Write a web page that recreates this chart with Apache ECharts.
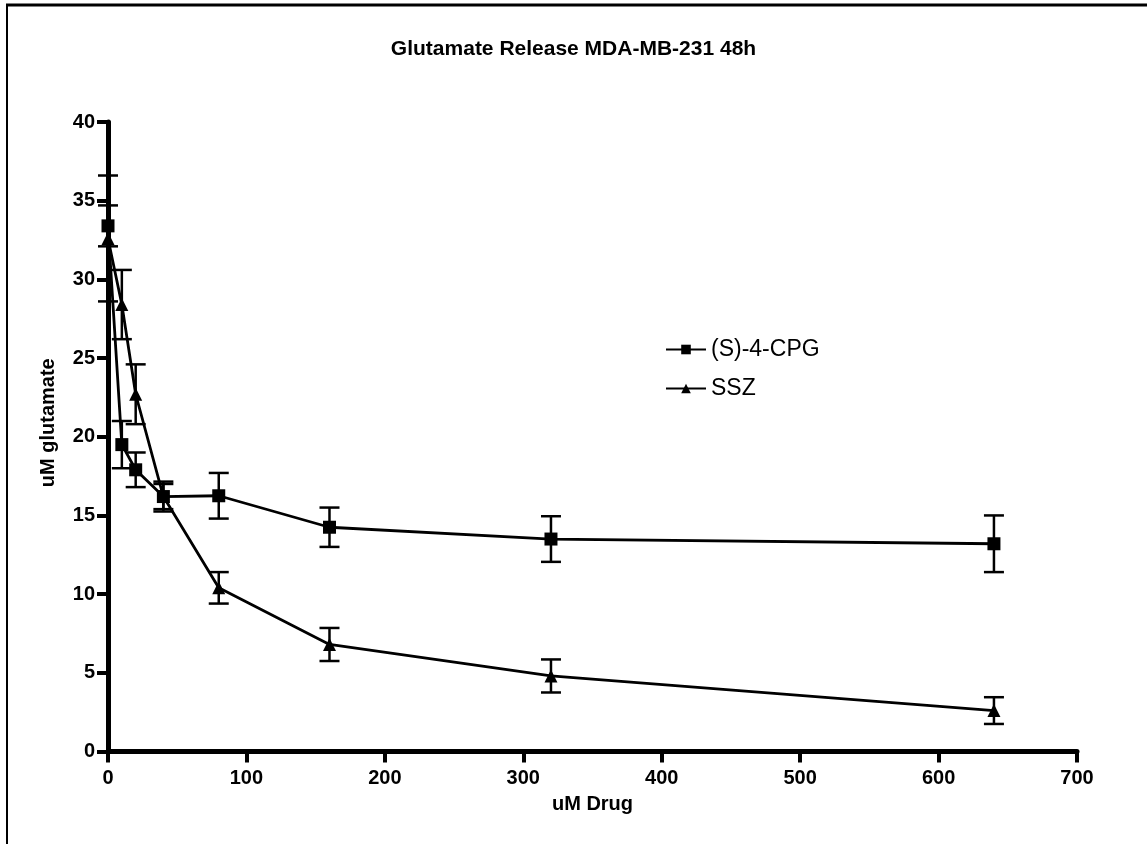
<!DOCTYPE html>
<html>
<head>
<meta charset="utf-8">
<script src="https://cdn.jsdelivr.net/npm/echarts@6/dist/echarts.min.js"></script>
<style>html,body{margin:0;padding:0;background:#fff}#c{width:1147px;height:844px}</style>
</head>
<body>
<div id="c"></div>
<script>
const doses = [0, 10, 20, 40, 80, 160, 320, 640];
const cpgMean = [33.4, 19.5, 17.9, 16.2, 16.25, 14.25, 13.5, 13.2];
const cpgErr = [1.3, 1.5, 1.1, 0.95, 1.45, 1.25, 1.45, 1.8];
const sszMean = [32.6, 28.4, 22.7, 16.2, 10.4, 6.8, 4.8, 2.6];
const sszErr = [4.0, 2.2, 1.9, 0.8, 1.0, 1.05, 1.05, 0.85];
const xTicks = [0, 100, 200, 300, 400, 500, 600, 700];
const yTicks = [0, 5, 10, 15, 20, 25, 30, 35, 40];
const seriesNames = ['(S)-4-CPG', 'SSZ'];

const FONT = 'Liberation Sans, Arial, sans-serif';
const chart = echarts.init(document.getElementById('c'));

function pts(means) { return doses.map((d, i) => [d, means[i]]); }
function errs(means, e) { return doses.map((d, i) => [d, means[i] - e[i], means[i] + e[i]]); }

function renderErr(params, api) {
  const x = api.value(0);
  const lo = api.coord([x, api.value(1)]);
  const hi = api.coord([x, api.value(2)]);
  const hw = 10;
  const st = { stroke: '#000', lineWidth: 2.5 };
  return {
    type: 'group',
    children: [
      { type: 'line', shape: { x1: lo[0], y1: lo[1], x2: hi[0], y2: hi[1] }, style: st },
      { type: 'line', shape: { x1: lo[0] - hw, y1: lo[1], x2: lo[0] + hw, y2: lo[1] }, style: st },
      { type: 'line', shape: { x1: hi[0] - hw, y1: hi[1], x2: hi[0] + hw, y2: hi[1] }, style: st }
    ]
  };
}

chart.setOption({
  animation: false,
  backgroundColor: '#fff',
  title: {
    text: 'Glutamate Release MDA-MB-231 48h',
    left: 'center',
    top: 34,
    textStyle: { fontFamily: FONT, fontWeight: 'bold', fontSize: 21, color: '#000' }
  },
  legend: {
    left: 660,
    top: 333,
    orient: 'vertical',
    itemWidth: 40,
    itemHeight: 12,
    itemGap: 16,
    data: seriesNames,
    textStyle: { fontFamily: FONT, fontSize: 23, color: '#000', padding: [0, 0, 0, 0] }
  },
  grid: { left: 108, right: 70, top: 122, bottom: 92.5 },
  xAxis: {
    type: 'value',
    min: 0, max: 700, interval: 100,
    name: 'uM Drug',
    nameLocation: 'middle',
    nameGap: 43,
    nameTextStyle: { fontFamily: FONT, fontWeight: 'bold', fontSize: 20, color: '#000' },
    axisLine: { lineStyle: { color: '#000', width: 5 } },
    axisTick: { show: true, length: 11, lineStyle: { color: '#000', width: 4 } },
    axisLabel: { fontFamily: FONT, fontWeight: 'bold', fontSize: 20, color: '#000', margin: 17,
      formatter: v => xTicks.includes(v) ? String(v) : '' },
    splitLine: { show: false }
  },
  yAxis: {
    type: 'value',
    min: 0, max: 40, interval: 5,
    name: 'uM glutamate',
    nameLocation: 'middle',
    nameGap: 50,
    nameTextStyle: { fontFamily: FONT, fontWeight: 'bold', fontSize: 20, color: '#000', padding: [0, 0, 0, 28] },
    axisLine: { lineStyle: { color: '#000', width: 5 } },
    axisTick: { show: true, length: 11, lineStyle: { color: '#000', width: 4 } },
    axisLabel: { fontFamily: FONT, fontWeight: 'bold', fontSize: 20, color: '#000', margin: 13,
      formatter: v => yTicks.includes(v) ? String(v) : '' },
    splitLine: { show: false }
  },
  graphic: [
    { type: 'line', shape: { x1: 6, y1: 5, x2: 1147, y2: 5 }, style: { stroke: '#000', lineWidth: 3 }, silent: true },
    { type: 'line', shape: { x1: 7, y1: 5, x2: 7, y2: 844 }, style: { stroke: '#000', lineWidth: 2 }, silent: true }
  ],
  series: [
    {
      name: seriesNames[0] + ' err', type: 'custom', renderItem: renderErr,
      data: errs(cpgMean, cpgErr), z: 2, silent: true
    },
    {
      name: seriesNames[1] + ' err', type: 'custom', renderItem: renderErr,
      data: errs(sszMean, sszErr), z: 2, silent: true
    },
    {
      name: seriesNames[0], type: 'line', data: pts(cpgMean),
      symbol: 'rect', symbolSize: 13,
      lineStyle: { color: '#000', width: 2.8 },
      itemStyle: { color: '#000', borderWidth: 0 }, z: 3
    },
    {
      name: seriesNames[1], type: 'line', data: pts(sszMean),
      symbol: 'triangle', symbolSize: 13,
      lineStyle: { color: '#000', width: 2.8 },
      itemStyle: { color: '#000', borderWidth: 0 }, z: 3
    }
  ]
});
</script>
</body>
</html>
